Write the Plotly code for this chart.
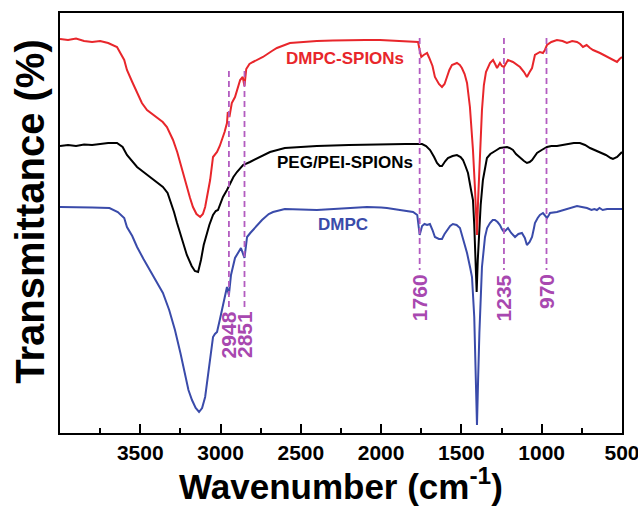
import plotly.graph_objects as go

# FTIR spectra (offset transmittance, arbitrary units) vs wavenumber (cm-1)
red_wn = [4000, 3950, 3900, 3850, 3800, 3750, 3700, 3645, 3600, 3583, 3550, 3520, 3490, 3458, 3420,
          3396, 3360, 3334, 3296, 3270, 3252, 3230, 3209, 3190, 3172, 3150, 3127, 3110, 3096, 3080,
          3065, 3047, 3035, 3022, 3005, 2991, 2975, 2960, 2955, 2945, 2930, 2910, 2878, 2862, 2851,
          2840, 2820, 2798, 2736, 2680, 2649, 2568, 2505, 2400, 2300, 2200, 2100, 2007, 1900, 1800,
          1770, 1760, 1750, 1735, 1714, 1700, 1680, 1665, 1640, 1621, 1605, 1590, 1575, 1559, 1528,
          1510, 1497, 1480, 1465, 1447, 1428, 1415, 1410, 1403, 1396, 1385, 1372, 1360, 1347, 1322,
          1303, 1290, 1278, 1260, 1248, 1235, 1210, 1179, 1135, 1110, 1092, 1075, 1060, 1042, 1011,
          992, 980, 967, 940, 905, 870, 843, 810, 780, 760, 743, 720, 699, 680, 637, 600, 575, 545,
          531, 515, 500]
red_t = [394, 393, 394.5, 392, 391, 392, 390, 386, 373, 363, 351, 340, 330, 323, 318,
         315, 311, 306, 293, 281, 270, 258, 246, 235, 226, 219, 216, 219, 226, 240,
         253, 276, 279, 281, 287, 293, 301, 310, 321, 316, 330, 336, 353, 356, 347,
         364, 369, 371, 376, 382, 385, 390, 391, 392, 392.5, 393, 393, 393, 392, 391.5,
         391, 383, 376, 378, 380, 375, 367, 356, 349, 346, 349, 356, 363, 368, 370,
         368, 365, 359, 350, 326, 283, 243, 218, 198, 233, 283, 323, 348, 361, 370,
         373, 369, 365, 370, 367, 366, 373, 371, 366, 361, 356, 361, 365, 378, 381,
         380, 383, 388, 391, 393, 392, 390, 392, 391, 389, 386, 388, 385, 383, 380, 377, 375, 372,
         371, 374, 376]

black_wn = [4000, 3950, 3900, 3850, 3800, 3750, 3700, 3645, 3610, 3583, 3550, 3520, 3480, 3440, 3400,
            3359, 3330, 3315, 3290, 3271, 3250, 3234, 3210, 3180, 3160, 3140, 3122, 3105, 3091, 3070,
            3047, 3030, 3016, 3000, 2985, 2960, 2941, 2920, 2898, 2860, 2817, 2755, 2692, 2600, 2505,
            2400, 2200, 2000, 1850, 1760, 1745, 1720, 1695, 1670, 1652, 1635, 1621, 1600, 1584, 1555,
            1528, 1505, 1490, 1475, 1459, 1440, 1428, 1420, 1412, 1405, 1398, 1390, 1380, 1366, 1350,
            1341, 1320, 1303, 1280, 1260, 1235, 1216, 1200, 1179, 1160, 1135, 1110, 1092, 1075, 1060,
            1045, 1029, 1000, 967, 940, 905, 870, 843, 800, 762, 730, 699, 670, 637, 600, 570, 556,
            530, 515, 500]
black_t = [287, 288, 287, 288.5, 288, 289, 290, 290, 286, 278, 272, 266, 261, 256, 251,
           246, 240, 233, 221, 210, 199, 190, 178, 167, 162, 161, 173, 188, 196, 208,
           218, 222, 223, 230, 236, 243, 250, 256, 261, 268, 271, 276, 281, 285, 286,
           287, 288, 289, 289, 289, 289, 287, 283, 276, 270, 267, 267, 272, 275, 277,
           278, 276, 273, 267, 260, 243, 233, 208, 173, 141, 173, 200, 228, 253, 269,
           275, 279, 281, 283, 285, 286, 286, 285, 283, 279, 275, 272, 270, 271, 273,
           277, 280, 283, 286, 287, 287, 288, 289, 290, 290, 288, 285, 283, 281, 278, 275, 274,
           276, 279, 281]

blue_wn = [4000, 3900, 3800, 3692, 3640, 3600, 3583, 3550, 3520, 3480, 3440, 3400, 3359, 3320, 3284,
           3250, 3222, 3200, 3178, 3155, 3134, 3115, 3096, 3075, 3060, 3047, 3035, 3022, 3005, 2991,
           2975, 2960, 2948, 2935, 2910, 2891, 2873, 2851, 2835, 2815, 2798, 2770, 2742, 2700, 2673,
           2600, 2568, 2500, 2400, 2300, 2256, 2150, 2088, 2000, 1964, 1883, 1850, 1801, 1775, 1760,
           1745, 1730, 1714, 1696, 1680, 1665, 1640, 1621, 1605, 1590, 1570, 1553, 1530, 1509, 1490,
           1465, 1445, 1434, 1420, 1410, 1403, 1396, 1388, 1372, 1360, 1353, 1340, 1322, 1305, 1291,
           1275, 1260, 1248, 1235, 1222, 1210, 1190, 1166, 1145, 1123, 1105, 1092, 1075, 1060, 1048,
           1042, 1025, 1011, 992, 967, 955, 948, 905, 867, 830, 800, 780, 750, 718, 690, 672, 656,
           640, 620, 593, 550, 500]
blue_t = [226, 226, 225.5, 225, 221, 215, 206, 197, 186, 174, 163, 152, 140, 123, 103,
          80, 58, 43, 33, 25, 21, 25, 36, 63, 83, 96, 99, 101, 113, 123,
          133, 146, 138, 158, 175, 180, 185, 175, 196, 200, 203, 208, 213, 219, 221,
          224, 224, 223.5, 223, 224, 225, 225.5, 226, 225.5, 225, 223, 222, 221, 218, 198,
          207, 209, 208, 209, 203, 196, 194, 194, 199, 203, 207, 209, 208, 205, 195,
          180, 165, 156, 116, 53, 8, 53, 100, 166, 188, 196, 205, 210, 213, 213,
          211, 208, 204, 201, 203, 205, 200, 196, 199, 200, 195, 188, 191, 196, 205,
          210, 215, 218, 220, 215, 218, 220, 221, 223, 225, 226, 227, 226, 225, 223, 224, 223,
          225, 223, 224, 224, 224]

# Marked band positions and the vertical extent of their guide lines
band_wn = [2948, 2851, 1760, 1235, 970]
band_labels = ["2948", "2851", "1760", "1235", "970"]
band_top = [362, 362, 395, 395, 395]
band_bottom = [126, 126, 163, 163, 163]
label_top = [124, 124, 161, 161, 161]

series_names = ["DMPC", "PEG/PEI-SPIONs", "DMPC-SPIONs"]
series_colors = ["#3A4BAA", "#000000", "#E8262B"]
name_wn = [2237, 2225, 2225]
name_t = [209, 271, 375]

x_ticks = [3500, 3000, 2500, 2000, 1500, 1000, 500]

FONT = "Liberation Sans, Arial, sans-serif"
BAND_COLOR = "#B35CC0"

fig = go.Figure()
for wn, t, color in [(blue_wn, blue_t, series_colors[0]),
                     (black_wn, black_t, series_colors[1]),
                     (red_wn, red_t, series_colors[2])]:
    fig.add_trace(go.Scatter(x=wn, y=t, mode="lines",
                             line=dict(color=color, width=2), hoverinfo="skip"))

for wn, top, bot in zip(band_wn, band_top, band_bottom):
    fig.add_trace(go.Scatter(x=[wn, wn], y=[top, bot], mode="lines",
                             line=dict(color=BAND_COLOR, width=1.8, dash="6px,4px"),
                             hoverinfo="skip"))

for wn, lab, yt in zip(band_wn, band_labels, label_top):
    fig.add_annotation(x=wn, y=yt, text=lab, showarrow=False, textangle=-90,
                       xanchor="center", yanchor="top",
                       font=dict(family=FONT, size=21, color="#A848B0", weight="bold"))

for name, color, wn, t in zip(series_names, series_colors, name_wn, name_t):
    fig.add_annotation(x=wn, y=t, text=name, showarrow=False,
                       xanchor="center", yanchor="middle",
                       font=dict(family=FONT, size=17, color=color, weight="bold"))

# Axis titles
fig.add_annotation(xref="paper", yref="paper", x=0.5, y=-0.122,
                   text="Wavenumber (cm<sup>-1</sup>)", showarrow=False,
                   xanchor="center", yanchor="middle",
                   font=dict(family=FONT, size=35, color="#000000", weight="bold"))
fig.add_annotation(xref="paper", yref="paper", x=-0.0534, y=0.529,
                   text="Transmittance (%)", showarrow=False, textangle=-90,
                   xanchor="center", yanchor="middle",
                   font=dict(family=FONT, size=40, color="#000000", weight="bold"))

fig.update_layout(
    width=638, height=507,
    margin=dict(l=60, r=16, t=13, b=74, autoexpand=False),
    paper_bgcolor="white", plot_bgcolor="white",
    showlegend=False,
    xaxis=dict(range=[4000, 499.8], tickvals=x_ticks, automargin=False,
               ticks="inside", ticklen=9, tickwidth=2, tickcolor="black",
               minor=dict(ticks="inside", ticklen=5, tickwidth=2, dtick=250, tick0=500,
                          tickcolor="black", showgrid=False),
               showgrid=False, zeroline=False,
               showline=True, linewidth=2, linecolor="black", mirror=True,
               ticklabeloverflow="allow",
               tickfont=dict(family=FONT, size=21, color="black", weight="bold")),
    yaxis=dict(range=[0, 420], showticklabels=False, ticks="",
               showgrid=False, zeroline=False,
               showline=True, linewidth=2, linecolor="black", mirror=True),
)

fig.write_html("out.html")
